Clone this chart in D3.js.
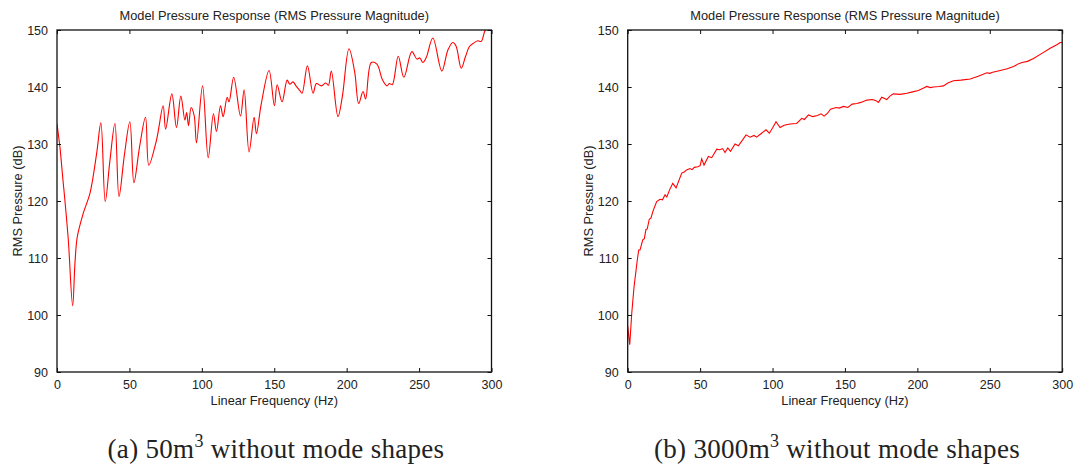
<!DOCTYPE html>
<html>
<head>
<meta charset="utf-8">
<script src="https://cdn.jsdelivr.net/npm/d3@7"></script>
<style>
  body { margin: 0; background: #fff; }
  text { font-family: "Liberation Sans", Arial, sans-serif; fill: #222; }
</style>
</head>
<body>
<div id="chart"></div>
<script>
// (a) 50m^3 - frequency (Hz) and RMS pressure (dB)
const freqA = [0, 2, 4, 5.5, 7.8, 10.8, 12.4, 14, 18.2, 22.8, 27.4, 30.3, 33.3, 36.5, 40, 42.8, 46.5, 50.3, 53.1, 57, 61.1, 63.4,
  68.7, 73.3, 75, 79.3, 82.5, 85.5, 88.3, 89.5, 90.8, 92.6, 94.7, 96.3, 100.5, 104.4, 108, 110.1, 112.9, 114.7, 117.5, 118.8,
  122, 126.7, 129.2, 132.6, 136.1, 137.7, 141, 146.4, 150.1, 152, 155.4, 158.9, 160.7, 163, 165, 167.6, 169.2, 172.9, 176.8,
  179.1, 182.5, 185.6, 187.4, 189.4, 194, 197, 201.6, 205.5, 208.3, 211.3, 213.1, 217, 220.9, 224.6, 227.8, 229.5, 231.5,
  235.6, 239.5, 245, 248.5, 250.5, 252.6, 255, 259.5, 265.7, 269.9, 273.3, 275.5, 279.1, 282, 284.8, 287.6, 290.6, 292.9,
  295.2, 297, 300];
const dbA = [133.5, 129.5, 124, 120, 113.2, 101.6, 109.1, 113.7, 117.9, 121.4, 128.4, 133.7, 119.9, 127, 133.6, 120.8, 128, 133.9,
  123.2, 129.5, 134.7, 126.3, 130.7, 136.7, 132.6, 138.8, 132.9, 138.4, 134.2, 135.5, 133.2, 136.4, 135, 130.2, 140.2, 127.6,
  135.3, 132.2, 136.7, 134.8, 138.2, 137.4, 141.7, 134.9, 139.5, 128.6, 134.7, 131.8, 137, 142.9, 136.7, 140.4, 137.4, 141.2,
  140.5, 140.9, 140.2, 139.4, 138.9, 143.7, 138.9, 140.6, 140.2, 140.7, 140.3, 142.8, 134.8, 138.3, 146.7, 142.7, 137.1,
  139.2, 137.9, 144.3, 144, 141.3, 140.2, 140.6, 140.4, 145.4, 141.7, 146.2, 144.9, 145.1, 144.3, 145.2, 148.6, 142.8,
  146.5, 147.8, 147.2, 143.3, 145.3, 147.1, 147.7, 148.1, 148, 149.7, 150.5, 152];

// (b) 3000m^3
const freqB = [0, 1.4, 2.8, 4.4, 6.6, 7.6, 8.5, 10.4, 11.5, 12.6, 13.5, 14.9, 16, 17.7, 20, 22.3, 24, 25.8, 27, 29, 31.1, 33.4,
  37.3, 39, 41, 43, 44.5, 46, 48.5, 50, 51.1, 52.7, 55.7, 58, 61.5, 63.5, 65.5, 67.2, 69.1, 71, 74.1, 76.4, 79, 81.7, 84.5,
  87.2, 89, 92, 95.5, 97.8, 100, 102.4, 105.2, 108, 112, 116.7, 120.2, 122, 124.8, 127.8, 131, 133.5, 135.6, 138, 140,
  143.9, 146, 149, 152, 155, 158.2, 161, 165.1, 169, 171.5, 173.1, 175.4, 178.9, 181, 183.5, 188, 192.7, 196, 200.7, 204,
  206.5, 209, 211.1, 215, 218, 221, 224.9, 230, 236.5, 242, 248, 250, 252, 257.2, 262, 266.4, 270, 272.2, 276, 280.2, 286,
  291.7, 296.3, 298.6, 300];
const dbB = [98, 94.8, 100.3, 105, 109.6, 111.4, 111.4, 113.2, 113.4, 115, 115.1, 116.8, 117, 118.4, 119.9, 120.3, 120.2, 121.1,
  120.7, 122, 123.1, 122.3, 124.9, 125.1, 125.5, 125.7, 125.5, 125.9, 126, 126.2, 127.4, 126.3, 127.8, 127.6, 129.1, 129,
  129.2, 128.5, 129.3, 128.7, 130, 129.7, 130.6, 131.6, 131.2, 131.5, 131.2, 131.8, 132.5, 131.9, 132.8, 133.9, 132.9,
  133.3, 133.5, 133.6, 134.5, 134.3, 135.1, 134.8, 135, 135.3, 134.9, 135.4, 136.1, 136.4, 136.3, 136.6, 136.4, 137,
  137.1, 137.3, 137.7, 137.8, 137.6, 137.3, 138.2, 137.8, 138.4, 138.8, 138.7, 138.9, 139.1, 139.4, 139.8, 140.1, 139.9,
  140, 140.1, 140.2, 140.7, 141.1, 141.2, 141.4, 141.9, 142.5, 142.4, 142.6, 142.9, 143.2, 143.6, 144.1, 144.3, 144.5,
  145, 145.9, 146.8, 147.4, 147.8, 147.8];

const xTicks = [0, 50, 100, 150, 200, 250, 300];
const yTicks = [90, 100, 110, 120, 130, 140, 150];

const titleText = "Model Pressure Response (RMS Pressure Magnitude)";
const xLabel = "Linear Frequency (Hz)";
const yLabel = "RMS Pressure (dB)";

const panels = [
  {left: 57, freq: freqA, db: dbA, curve: d3.curveCatmullRom.alpha(0.5), capX: 276, capPre: "(a) 50m", capPost: " without mode shapes"},
  {left: 627.7, freq: freqB, db: dbB, curve: d3.curveLinear, capX: 837, capPre: "(b) 3000m", capPost: " without mode shapes"}
];

const W = 1079, H = 465;
const plotW = 434.5, plotTop = 30, plotBottom = 372;

const svg = d3.select("#chart")
  .append("svg")
    .attr("width", W)
    .attr("height", H);

panels.forEach(function(p, i) {
  const x = d3.scaleLinear().domain([0, 300]).range([p.left, p.left + plotW]);
  const y = d3.scaleLinear().domain([90, 150]).range([plotBottom, plotTop]);
  const g = svg.append("g");

  g.append("clipPath")
    .attr("id", "clip" + i)
    .append("rect")
      .attr("x", p.left).attr("y", plotTop)
      .attr("width", plotW).attr("height", plotBottom - plotTop);

  const data = p.freq.map((f, k) => ({f: f, v: p.db[k]}));
  g.append("path")
    .datum(data)
    .attr("clip-path", "url(#clip" + i + ")")
    .attr("fill", "none")
    .attr("stroke", "#ff0000")
    .attr("stroke-width", 1.1)
    .attr("d", d3.line().curve(p.curve).x(d => x(d.f)).y(d => y(d.v)));

  // axes: ticks inside, mirrored on top and right
  const tickStyle = sel => {
    sel.select(".domain").remove();
    sel.selectAll(".tick line").attr("stroke", "#111").attr("stroke-width", 1);
    sel.selectAll(".tick text")
      .style("font-family", "'Liberation Sans', Arial, sans-serif")
      .style("font-size", "12.5px").attr("fill", "#222");
  };
  g.append("g")
    .attr("transform", "translate(0," + plotBottom + ")")
    .call(d3.axisBottom(x).tickValues(xTicks).tickSizeInner(-4).tickSizeOuter(0).tickPadding(8))
    .call(tickStyle);
  g.append("g")
    .attr("transform", "translate(0," + plotTop + ")")
    .call(d3.axisTop(x).tickValues(xTicks).tickSizeInner(-4).tickSizeOuter(0).tickFormat(""))
    .call(tickStyle);
  g.append("g")
    .attr("transform", "translate(" + p.left + ",0)")
    .call(d3.axisLeft(y).tickValues(yTicks).tickSizeInner(-4).tickSizeOuter(0).tickPadding(9))
    .call(tickStyle);
  g.append("g")
    .attr("transform", "translate(" + (p.left + plotW) + ",0)")
    .call(d3.axisRight(y).tickValues(yTicks).tickSizeInner(-4).tickSizeOuter(0).tickFormat(""))
    .call(tickStyle);

  g.append("rect")
    .attr("x", p.left).attr("y", plotTop)
    .attr("width", plotW).attr("height", plotBottom - plotTop)
    .attr("fill", "none")
    .attr("stroke", "#111")
    .attr("stroke-width", 1.3);

  const cx = p.left + plotW / 2;
  g.append("text")
    .attr("x", cx).attr("y", 20)
    .attr("text-anchor", "middle")
    .style("font-size", "12.8px")
    .text(titleText);

  g.append("text")
    .attr("x", cx).attr("y", 405)
    .attr("text-anchor", "middle")
    .style("font-size", "12.8px")
    .text(xLabel);

  g.append("text")
    .attr("transform", "rotate(-90)")
    .attr("x", -(plotTop + plotBottom) / 2)
    .attr("y", p.left - 35)
    .attr("text-anchor", "middle")
    .style("font-size", "12.8px")
    .text(yLabel);

  const cap = g.append("text")
    .attr("x", p.capX).attr("y", 458)
    .attr("text-anchor", "middle")
    .style("font-family", "'Liberation Serif', 'DejaVu Serif', serif")
    .style("font-size", "27px")
    .style("letter-spacing", "0.3px")
    .attr("fill", "#111");
  cap.append("tspan").text(p.capPre);
  cap.append("tspan").attr("dy", -11).style("font-size", "18px").text("3");
  cap.append("tspan").attr("dy", 11).text(p.capPost);
});
</script>
</body>
</html>
